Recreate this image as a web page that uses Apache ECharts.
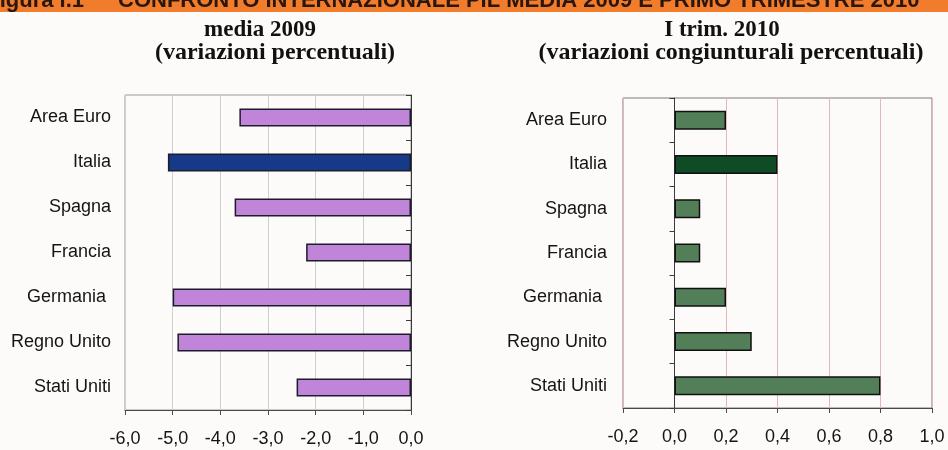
<!DOCTYPE html>
<html lang="it">
<head>
<meta charset="UTF-8" />
<title>Confronto internazionale PIL</title>
</head>
<body>
<style>
* {
  margin: 0;
  padding: 0;
}
#chartEl {
  width: 948px;
  height: 450px;
}
</style>
<div id="chartEl"></div>
<script src="https://cdn.jsdelivr.net/npm/echarts@6/dist/echarts.min.js"></script>
<script>
// dati
const paesi = ['Area Euro', 'Italia', 'Spagna', 'Francia', 'Germania ', 'Regno Unito', 'Stati Uniti'];
const media2009 = [-3.6, -5.1, -3.7, -2.2, -5.0, -4.9, -2.4];
const trim2010 = [0.2, 0.4, 0.1, 0.1, 0.2, 0.3, 0.8];
const ticksSinistra = [-6, -5, -4, -3, -2, -1, 0];
const ticksDestra = [-0.2, 0, 0.2, 0.4, 0.6, 0.8, 1.0];

const fontSans = '"Liberation Sans", Arial, sans-serif';
const fontSerif = '"Liberation Serif", "Times New Roman", serif';

function fmt(v) {
  return v.toFixed(1).replace('.', ',');
}

// barre colorate, Italia evidenziata
function barData(values, color, colorItalia) {
  return values.map(function (v, i) {
    return {
      value: v,
      itemStyle: { color: paesi[i] === 'Italia' ? colorItalia : color }
    };
  });
}

function valueAxis(gridIndex, ticks, splitColor) {
  return {
    type: 'value',
    gridIndex: gridIndex,
    min: ticks[0],
    max: ticks[ticks.length - 1],
    interval: Math.round((ticks[1] - ticks[0]) * 10) / 10,
    axisLine: { show: true, onZero: false, lineStyle: { color: '#4a4a4a', width: 1 } },
    axisTick: { show: true, length: 5, lineStyle: { color: '#4a4a4a' } },
    axisLabel: {
      margin: 20,
      color: '#141414',
      fontFamily: fontSans,
      fontSize: 18,
      formatter: fmt
    },
    splitLine: { show: true, lineStyle: { color: splitColor, width: 1 } }
  };
}

function labelAxis(gridIndex, margin) {
  return {
    type: 'category',
    gridIndex: gridIndex,
    data: paesi,
    inverse: true,
    axisLine: { show: false, onZero: false },
    axisTick: { show: false },
    axisLabel: {
      margin: margin,
      color: '#141414',
      fontFamily: fontSans,
      fontSize: 18
    }
  };
}

// asse categorie sullo zero, tacche verso sinistra
function zeroAxis(gridIndex) {
  return {
    type: 'category',
    gridIndex: gridIndex,
    data: paesi,
    inverse: true,
    axisLine: { show: true, onZero: true, lineStyle: { color: '#3a3a3a', width: 1 } },
    axisTick: { show: true, inside: true, length: 5, lineStyle: { color: '#3a3a3a' } },
    axisLabel: { show: false }
  };
}

const chart = echarts.init(document.getElementById('chartEl'));

chart.setOption({
  backgroundColor: '#fcfbf9',
  animation: false,
  graphic: [
    {
      type: 'rect',
      shape: { x: 0, y: 0, width: 948, height: 12 },
      style: { fill: '#f07c2c' }
    },
    {
      type: 'text',
      x: 84, y: 1,
      style: {
        text: 'Figura I.1',
        fill: '#2a160c',
        font: 'bold 22px ' + fontSans,
        align: 'right',
        verticalAlign: 'middle'
      }
    },
    {
      type: 'text',
      x: 118, y: 1,
      style: {
        text: 'CONFRONTO INTERNAZIONALE PIL MEDIA 2009 E PRIMO TRIMESTRE 2010',
        fill: '#2a160c',
        font: 'bold 22px ' + fontSans,
        align: 'left',
        verticalAlign: 'middle'
      }
    },
    {
      type: 'text', x: 260, y: 30,
      style: { text: 'media 2009', fill: '#111', font: 'bold 23px ' + fontSerif, align: 'center', verticalAlign: 'middle' }
    },
    {
      type: 'text', x: 275, y: 53,
      style: { text: '(variazioni percentuali)', fill: '#111', font: 'bold 24px ' + fontSerif, align: 'center', verticalAlign: 'middle' }
    },
    {
      type: 'text', x: 722, y: 30,
      style: { text: 'I trim. 2010', fill: '#111', font: 'bold 23px ' + fontSerif, align: 'center', verticalAlign: 'middle' }
    },
    {
      type: 'text', x: 731, y: 53,
      style: { text: '(variazioni congiunturali percentuali)', fill: '#111', font: 'bold 24px ' + fontSerif, align: 'center', verticalAlign: 'middle' }
    }
  ],
  grid: [
    { left: 125, top: 95, width: 286, height: 315, show: true, borderColor: '#9a9a9a', borderWidth: 1, backgroundColor: 'transparent' },
    { left: 623, top: 98, width: 309, height: 310, show: true, borderColor: '#7a7a7a', borderWidth: 1, backgroundColor: 'transparent' }
  ],
  xAxis: [
    valueAxis(0, ticksSinistra, '#cfcfcf'),
    valueAxis(1, ticksDestra, '#e2b8b8')
  ],
  yAxis: [
    labelAxis(0, 14),
    zeroAxis(0),
    labelAxis(1, 16),
    zeroAxis(1)
  ],
  series: [
    {
      type: 'bar',
      xAxisIndex: 0,
      yAxisIndex: 0,
      barWidth: 18,
      data: barData(media2009, '#c084d8', '#173a88'),
      itemStyle: { borderColor: '#1c1c2c', borderWidth: 1.5 }
    },
    {
      type: 'bar',
      xAxisIndex: 1,
      yAxisIndex: 2,
      barWidth: 19,
      data: barData(trim2010, '#527f58', '#0f4b24'),
      itemStyle: { borderColor: '#111', borderWidth: 1.5 }
    }
  ]
});
</script>
</body>
</html>
